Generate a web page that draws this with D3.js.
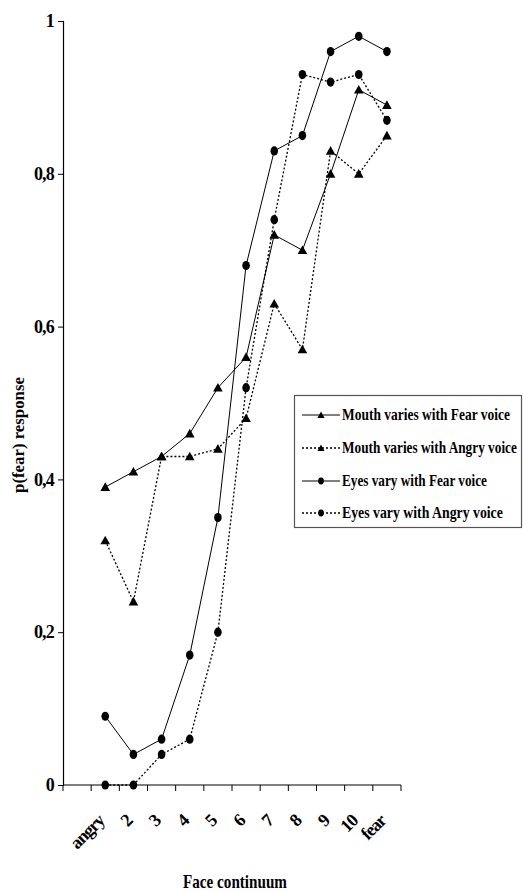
<!DOCTYPE html>
<html><head><meta charset="utf-8">
<script src="https://cdn.jsdelivr.net/npm/d3@7"></script>
<style>html,body{margin:0;padding:0;background:#fff;}svg{display:block;}</style>
</head><body>
<script>
const categories = ["", "angry", "2", "3", "4", "5", "6", "7", "8", "9", "10", "fear"];
const faceSteps = ["angry", "2", "3", "4", "5", "6", "7", "8", "9", "10", "fear"];
const mouthFear  = [0.39, 0.41, 0.43, 0.46, 0.52, 0.56, 0.72, 0.70, 0.80, 0.91, 0.89];
const mouthAngry = [0.32, 0.24, 0.43, 0.43, 0.44, 0.48, 0.63, 0.57, 0.83, 0.80, 0.85];
const eyesFear   = [0.09, 0.04, 0.06, 0.17, 0.35, 0.68, 0.83, 0.85, 0.96, 0.98, 0.96];
const eyesAngry  = [0.00, 0.00, 0.04, 0.06, 0.20, 0.52, 0.74, 0.93, 0.92, 0.93, 0.87];
const yTicks = [0, 0.2, 0.4, 0.6, 0.8, 1];
const yTickLabels = ["0", "0,2", "0,4", "0,6", "0,8", "1"];
const seriesNames = ["Mouth varies with Fear voice", "Mouth varies with Angry voice", "Eyes vary with Fear voice", "Eyes vary with Angry voice"];

const W = 523, H = 891;
const font = "'Liberation Serif','Times New Roman',serif";
const svg = d3.select("body").append("svg").attr("width", W).attr("height", H)
  .style("font-family", font).style("font-weight", "bold");

const x = d3.scaleBand().domain(categories).range([63, 401]).padding(0);
const y = d3.scaleLinear().domain([0, 1]).range([785, 21]);
const cx = c => x(c) + x.bandwidth() / 2;

function condensed(g, str, size, width, tx, ty, anchor, rot) {
  const t = g.append("text").attr("font-size", size).attr("text-anchor", anchor).text(str);
  const nat = t.node().getComputedTextLength();
  const s = width / nat;
  t.attr("transform", `translate(${tx},${ty})` + (rot ? ` rotate(${rot})` : "") + ` scale(${s},1)`);
  return t;
}

// y axis
const yAxis = d3.axisLeft(y).tickValues(yTicks).tickSize(5).tickFormat((d, i) => yTickLabels[i]);
const gy = svg.append("g").attr("transform", "translate(63,0)").call(yAxis);
gy.select(".domain").attr("stroke", "#000").attr("stroke-width", 1.2);
gy.selectAll(".tick line").attr("stroke", "#000");
gy.selectAll(".tick text").attr("x", -9).attr("font-size", 18).attr("font-family", font)
  .attr("font-weight", "bold").attr("letter-spacing", -0.8).attr("fill", "#000");

// x axis with ticks at category boundaries
const edges = categories.map(c => x(c)).concat([x(categories[categories.length - 1]) + x.bandwidth()]);
svg.append("line").attr("x1", x.range()[0]).attr("x2", x.range()[1]).attr("y1", y(0)).attr("y2", y(0))
  .attr("stroke", "#000").attr("stroke-width", 1.2);
svg.selectAll(".xt").data(edges).enter().append("line")
  .attr("x1", d => d).attr("x2", d => d).attr("y1", y(0)).attr("y2", y(0) + 6)
  .attr("stroke", "#000").attr("stroke-width", 1);
svg.selectAll(".xl").data(faceSteps).enter().append("g")
  .attr("transform", d => `translate(${cx(d)},${y(0) + 37}) rotate(-45)`)
  .append("text").attr("text-anchor", "end").attr("font-size", 18).attr("letter-spacing", -1.1)
  .text(d => d);

// titles
condensed(svg, "p(fear) response", 17, 116, 24, 435, "middle", -90);
condensed(svg, "Face continuum", 18, 104, 235, 888, "middle", 0);

// series
const series = [
  {vals: mouthFear, dash: null, marker: "tri"},
  {vals: mouthAngry, dash: "2,2", marker: "tri"},
  {vals: eyesFear, dash: null, marker: "dot"},
  {vals: eyesAngry, dash: "2,2", marker: "dot"}
];
const line = d3.line().x((d, i) => cx(faceSteps[i])).y(d => y(d));
const tri = (s) => `M0,${-s}L${s},${s * 0.8}L${-s},${s * 0.8}Z`;

function drawMarker(g, type, px, py, scale) {
  if (type === "tri") {
    g.append("path").attr("d", tri(4.8 * scale)).attr("transform", `translate(${px},${py})`).attr("fill", "#000");
  } else {
    g.append("ellipse").attr("cx", px).attr("cy", py).attr("rx", 3.8 * scale).attr("ry", 4.6 * scale).attr("fill", "#000");
  }
}

series.forEach(s => {
  svg.append("path").datum(s.vals).attr("d", line).attr("fill", "none").attr("stroke", "#000")
    .attr("stroke-width", s.dash ? 1.3 : 1).attr("stroke-dasharray", s.dash);
});
series.forEach(s => {
  const g = svg.append("g");
  s.vals.forEach((v, i) => drawMarker(g, s.marker, cx(faceSteps[i]), y(v), 1));
});

// legend
const lg = svg.append("g");
lg.append("rect").attr("x", 294.5).attr("y", 395.5).attr("width", 227).attr("height", 132)
  .attr("fill", "#fff").attr("stroke", "#555").attr("stroke-width", 1.2);
const rowY = [415, 448, 481, 513];
const txtW = [168, 175, 145, 161];
series.forEach((s, i) => {
  lg.append("line").attr("x1", 302).attr("x2", 340).attr("y1", rowY[i]).attr("y2", rowY[i])
    .attr("stroke", "#000").attr("stroke-width", s.dash ? 1.3 : 1).attr("stroke-dasharray", s.dash);
  drawMarker(lg, s.marker, 321, rowY[i], 0.75);
  condensed(lg, seriesNames[i], 17, txtW[i], 342, rowY[i] + 5, "start", 0);
});
</script>
</body></html>
